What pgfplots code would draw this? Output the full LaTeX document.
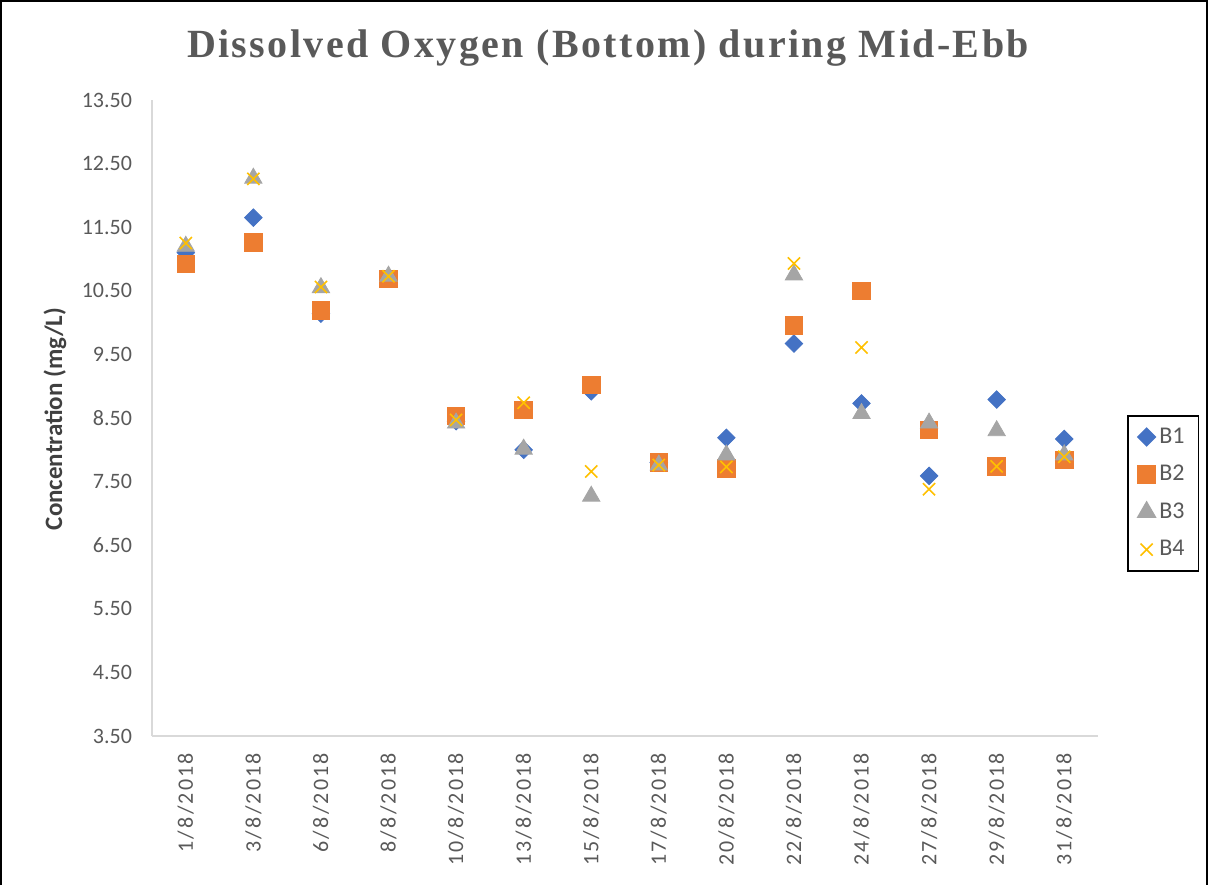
\documentclass[border=0pt]{standalone}
\usepackage{pgfplots}
\pgfplotsset{compat=1.18}
\usepackage{fontspec}
\setmainfont{Carlito}
\newfontfamily\titlefont[LetterSpace=6]{Liberation Serif}
\newfontfamily\xlabfont[LetterSpace=10]{Carlito}
\definecolor{cB1}{HTML}{4472C4}
\definecolor{cB2}{HTML}{ED7D31}
\definecolor{cB3}{HTML}{A5A5A5}
\definecolor{cB4}{HTML}{FFC000}
\definecolor{txtgray}{HTML}{595959}
\definecolor{axgray}{HTML}{D9D9D9}
\begin{document}
\begin{tikzpicture}[x=1pt,y=1pt]
\useasboundingbox (0,0) rectangle (604,442.5);
\draw[line width=1pt] (0.5,0) -- (0.5,442) -- (603.5,442) -- (603.5,0);
\node[text=txtgray,font=\titlefont\bfseries\fontsize{20}{24}\selectfont] at (304,418.5) {Dissolved Oxygen (Bottom) during Mid-Ebb};
\node[rotate=90,text=black!75,font=\bfseries\fontsize{12.5}{15}\selectfont] at (27.5,233) {Concentration (mg/L)};
\begin{axis}[
  at={(76pt,74.5pt)}, anchor=south west, scale only axis,
  width=473pt, height=318pt,
  xmin=-0.5, xmax=13.5, ymin=3.5, ymax=13.5,
  axis x line*=bottom, axis y line*=left,
  axis line style={draw=axgray, line width=0.75pt},
  major tick length=0pt,
  ytick={3.5,4.5,5.5,6.5,7.5,8.5,9.5,10.5,11.5,12.5,13.5},
  yticklabel={\pgfmathprintnumber[fixed,fixed zerofill,precision=2]{\tick}},
  xtick={0,1,2,3,4,5,6,7,8,9,10,11,12,13},
  xticklabels={1/8/2018,3/8/2018,6/8/2018,8/8/2018,10/8/2018,13/8/2018,15/8/2018,17/8/2018,20/8/2018,22/8/2018,24/8/2018,27/8/2018,29/8/2018,31/8/2018},
  /pgf/number format/assume math mode=true,
  tick label style={font=\fontsize{11}{13}\selectfont, text=txtgray},
  yticklabel style={xshift=-6.5pt},
  xticklabel style={font=\xlabfont\fontsize{11}{13}\selectfont, rotate=90, anchor=east, xshift=-5pt},
  legend style={at={(1.0307,0.5047)}, anchor=north west, draw=black, line width=0.75pt,
     font=\fontsize{12}{14}\selectfont, text=txtgray, row sep=5.5pt, inner xsep=5pt, inner ysep=4pt},
  legend cell align=left,
  clip=false,
]
\addplot[only marks, mark=square*, mark size=3.1pt, mark options={rotate=45, draw=cB1, fill=cB1}] coordinates {
(0,11.10) (1,11.65) (2,10.14) (3,10.70) (4,8.45) (5,8.00) (6,8.92) (7,7.80) (8,8.19) (9,9.67) (10,8.73) (11,7.59) (12,8.79) (13,8.17)};
\addlegendentry{B1}
\addplot[only marks, mark=square*, mark size=4.4pt, mark options={draw=cB2, fill=cB2}] coordinates {
(0,10.92) (1,11.26) (2,10.19) (3,10.69) (4,8.53) (5,8.63) (6,9.02) (7,7.80) (8,7.71) (9,9.96) (10,10.50) (11,8.31) (12,7.74) (13,7.84)};
\addlegendentry{B2}
\addplot[only marks, mark=triangle*, mark size=5pt, mark options={draw=cB3, fill=cB3}] coordinates {
(0,11.20) (1,12.27) (2,10.55) (3,10.73) (4,8.42) (5,8.01) (6,7.27) (7,7.76) (8,7.92) (9,10.75) (10,8.57) (11,8.42) (12,8.30) (13,7.92)};
\addlegendentry{B3}
\addplot[only marks, mark=x, mark size=4.3pt, mark options={draw=cB4, line width=0.8pt}] coordinates {
(0,11.25) (1,12.26) (2,10.56) (3,10.73) (4,8.47) (5,8.74) (6,7.66) (7,7.76) (8,7.73) (9,10.93) (10,9.61) (11,7.38) (12,7.74) (13,7.89)};
\addlegendentry{B4}
\end{axis}
\end{tikzpicture}
\end{document}
